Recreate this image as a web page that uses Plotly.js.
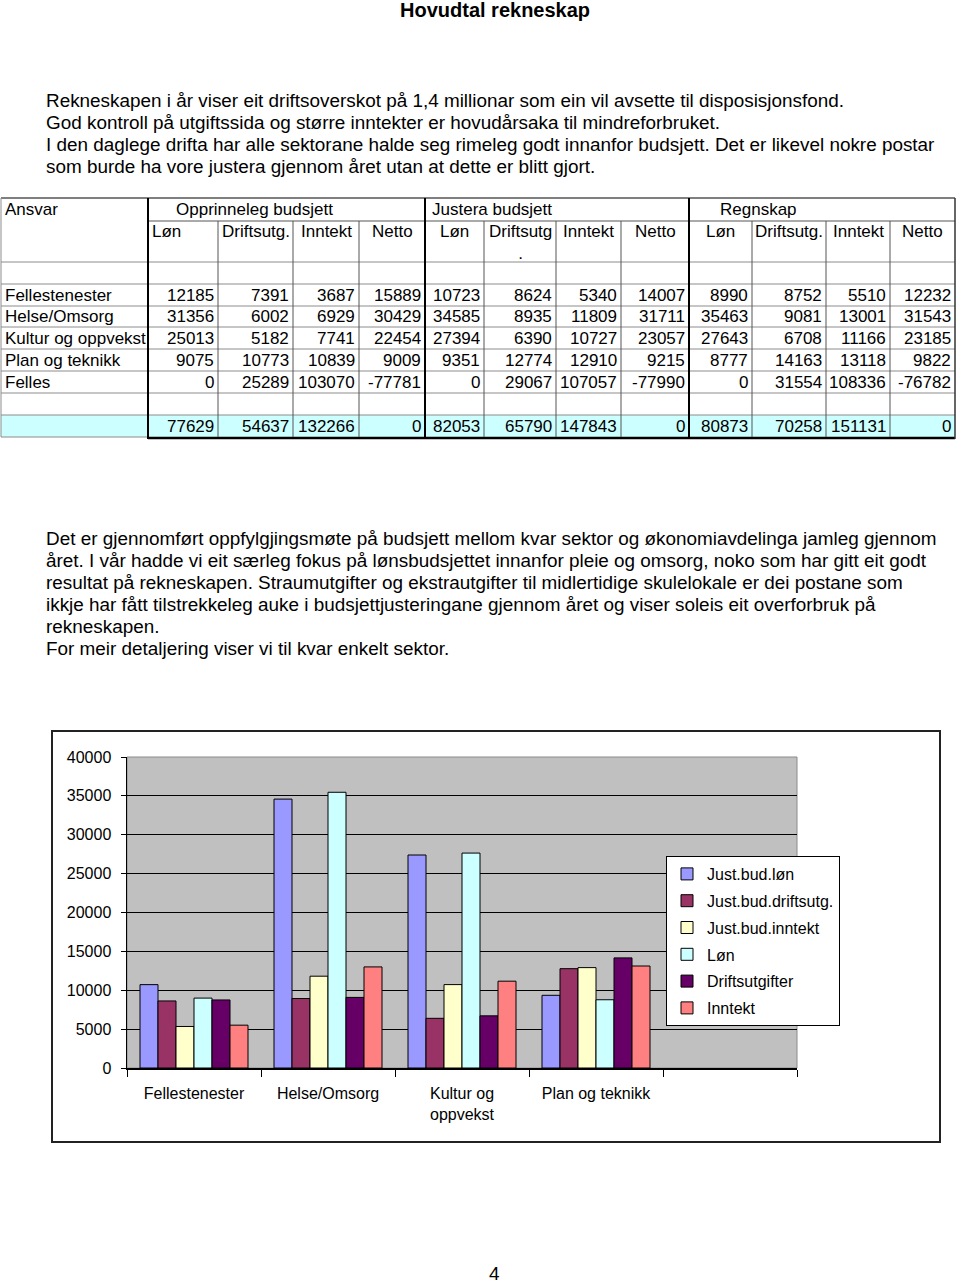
<!DOCTYPE html>
<html>
<head>
<meta charset="utf-8">
<script src="https://cdn.plot.ly/plotly-3.0.1.min.js"></script>
<style>html,body{margin:0;padding:0;background:#fff}#page{width:960px;height:1283px}</style>
</head>
<body>
<div id="page"></div>
<script>
// ================= DATA =================
const pageTitle = "Hovudtal rekneskap";
const introLines = [
  "Rekneskapen i år viser eit driftsoverskot på 1,4 millionar som ein vil avsette til disposisjonsfond.",
  "God kontroll på utgiftssida og større inntekter er hovudårsaka til mindreforbruket.",
  "I den daglege drifta har alle sektorane halde seg rimeleg godt innanfor budsjett. Det er likevel nokre postar",
  "som burde ha vore justera gjennom året utan at dette er blitt gjort."
];
const outroLines = [
  "Det er gjennomført oppfylgjingsmøte på budsjett mellom kvar sektor og økonomiavdelinga jamleg gjennom",
  "året. I vår hadde vi eit særleg fokus på lønsbudsjettet innanfor pleie og omsorg, noko som har gitt eit godt",
  "resultat på rekneskapen. Straumutgifter og ekstrautgifter til midlertidige skulelokale er dei postane som",
  "ikkje har fått tilstrekkeleg auke i budsjettjusteringane gjennom året og viser soleis eit overforbruk på",
  "rekneskapen.",
  "For meir detaljering viser vi til kvar enkelt sektor."
];
const pageNumber = "4";

// Table
const firstHeader = "Ansvar";
const groupTitles = ["Opprinneleg budsjett", "Justera budsjett", "Regnskap"];
const columnHeaders = ["Løn", "Driftsutg.", "Inntekt", "Netto",
                       "Løn", "Driftsutg<br>.", "Inntekt", "Netto",
                       "Løn", "Driftsutg.", "Inntekt", "Netto"];
const sectors = ["Fellestenester", "Helse/Omsorg", "Kultur og oppvekst", "Plan og teknikk", "Felles"];
const opprLon   = [12185, 31356, 25013, 9075, 0];
const opprDrift = [7391, 6002, 5182, 10773, 25289];
const opprInnt  = [3687, 6929, 7741, 10839, 103070];
const opprNetto = [15889, 30429, 22454, 9009, -77781];
const justLon   = [10723, 34585, 27394, 9351, 0];
const justDrift = [8624, 8935, 6390, 12774, 29067];
const justInnt  = [5340, 11809, 10727, 12910, 107057];
const justNetto = [14007, 31711, 23057, 9215, -77990];
const regnLon   = [8990, 35463, 27643, 8777, 0];
const regnDrift = [8752, 9081, 6708, 14163, 31554];
const regnInnt  = [5510, 13001, 11166, 13118, 108336];
const regnNetto = [12232, 31543, 23185, 9822, -76782];
const totals    = [77629, 54637, 132266, 0, 82053, 65790, 147843, 0, 80873, 70258, 151131, 0];

// Chart
const chartCategories = ["Fellestenester", "Helse/Omsorg", "Kultur og oppvekst", "Plan og teknikk", " "];
const chartTickText   = ["Fellestenester", "Helse/Omsorg", "Kultur og<br>oppvekst", "Plan og teknikk", ""];
const seriesNames = ["Just.bud.løn", "Just.bud.driftsutg.", "Just.bud.inntekt", "Løn", "Driftsutgifter", "Inntekt"];
const justBudLon    = [10723, 34585, 27394, 9351];
const justBudDrift  = [8624, 8935, 6390, 12774];
const justBudInnt   = [5340, 11809, 10727, 12910];
const regnskapLon   = [8990, 35463, 27643, 8777];
const regnskapDrift = [8752, 9081, 6708, 14163];
const regnskapInnt  = [5510, 13001, 11166, 13118];
const yTicks = [0, 5000, 10000, 15000, 20000, 25000, 30000, 35000, 40000];

// ================= LAYOUT / STYLE =================
const W = 960, H = 1283;
const FONT = "Arial, 'Liberation Sans', sans-serif";
const seriesColors = ["#9999FF", "#993366", "#FFFFCC", "#CCFFFF", "#660066", "#FF8080"];
const colEdges = [1, 148, 218, 293, 359, 425, 484, 556, 621, 689, 752, 826, 890, 955];
const rowEdges = [198, 221, 262, 284, 306, 327, 349, 371, 393, 415, 437];
const groupCols = [1, 5, 9, 13];
const groupTitleX = [174, 430, 718];
const headerAlign = ["left", "left", "center", "center", "center", "center", "center", "center", "center", "center", "center", "center"];
const plotBox = {x0: 127, x1: 797, yTop: 757, yBottom: 1068};
const frameBox = {x0: 52, y0: 731, x1: 940, y1: 1142};
const introTop = 100, outroTop = 538, lineStep = 22;

const annotations = [];
const shapes = [];
const P = (o) => Object.assign({xref: 'x2', yref: 'y2', showarrow: false, font: {family: FONT, size: 17, color: '#000'}}, o);
const bodyFont = {family: FONT, size: 18.9, color: '#000'};

// Page texts
annotations.push(P({x: 495, y: 10, text: '<b>' + pageTitle + '</b>', xanchor: 'center', yanchor: 'middle', font: {family: FONT, size: 20, color: '#000'}}));
introLines.forEach((t, i) => annotations.push(P({x: 44, y: introTop + i * lineStep, text: t, xanchor: 'left', yanchor: 'middle', font: bodyFont})));
outroLines.forEach((t, i) => annotations.push(P({x: 44, y: outroTop + i * lineStep, text: t, xanchor: 'left', yanchor: 'middle', font: bodyFont})));
annotations.push(P({x: 494, y: 1273, text: pageNumber, xanchor: 'center', yanchor: 'middle', font: bodyFont}));

// Table background (total row)
shapes.push({type: 'rect', xref: 'x2', yref: 'y2', layer: 'below', x0: colEdges[0], x1: colEdges[13], y0: rowEdges[9], y1: rowEdges[10], fillcolor: '#CCFFFF', line: {width: 0}});
const L = (x0, y0, x1, y1, color, width) => shapes.push({type: 'line', xref: 'x2', yref: 'y2', layer: 'above', x0, y0, x1, y1, line: {color, width}});
const GREY = '#8c8c8c';
rowEdges.forEach((y, i) => {
  if (i === 0) L(colEdges[0], y, colEdges[13], y, '#555', 1.5);
  else if (i === 1) L(colEdges[1], y, colEdges[13], y, '#555', 1);
  else if (i === rowEdges.length - 1) { L(colEdges[0], y, colEdges[1], y, GREY, 1); L(colEdges[1], y + 1, colEdges[13], y + 1, '#000', 2.5); }
  else L(colEdges[0], y, colEdges[13], y, GREY, 1);
});
colEdges.forEach((x, i) => {
  if (i === 0) L(x, rowEdges[0], x, rowEdges[10], GREY, 1);
  else if (groupCols.indexOf(i) >= 0) L(x, rowEdges[0], x, rowEdges[10] + 2, i === 13 ? '#333' : '#000', i === 13 ? 1.5 : 2);
  else L(x, rowEdges[1], x, rowEdges[10], '#555', 1);
});

// table texts
annotations.push(P({x: 3, y: (rowEdges[0] + rowEdges[1]) / 2, text: firstHeader, xanchor: 'left', yanchor: 'middle'}));
groupTitles.forEach((t, g) => annotations.push(P({x: groupTitleX[g], y: (rowEdges[0] + rowEdges[1]) / 2, text: t, xanchor: 'left', yanchor: 'middle'})));
columnHeaders.forEach((t, c) => {
  const left = colEdges[c + 1], right = colEdges[c + 2];
  const al = headerAlign[c];
  annotations.push(P({x: al === 'left' ? left + 2 : (left + right) / 2, y: rowEdges[1] - 1, text: t, xanchor: al, yanchor: 'top', align: 'center'}));
});
const tableCols = [opprLon, opprDrift, opprInnt, opprNetto, justLon, justDrift, justInnt, justNetto, regnLon, regnDrift, regnInnt, regnNetto];
sectors.forEach((s, r) => {
  const yc = (rowEdges[r + 3] + rowEdges[r + 4]) / 2;
  annotations.push(P({x: 3, y: yc, text: s, xanchor: 'left', yanchor: 'middle'}));
  tableCols.forEach((col, c) => {
    annotations.push(P({x: colEdges[c + 2] - 2, y: yc, text: String(col[r]), xanchor: 'right', yanchor: 'middle'}));
  });
});
totals.forEach((v, c) => {
  annotations.push(P({x: colEdges[c + 2] - 2, y: (rowEdges[9] + rowEdges[10]) / 2, text: String(v), xanchor: 'right', yanchor: 'middle'}));
});

// Chart frame & plot area background
shapes.push({type: 'rect', xref: 'x2', yref: 'y2', layer: 'below', x0: frameBox.x0, y0: frameBox.y0, x1: frameBox.x1, y1: frameBox.y1, line: {color: '#222', width: 2}, fillcolor: 'rgba(0,0,0,0)'});
const xDom = [plotBox.x0 / W, plotBox.x1 / W];
const yDom = [1 - plotBox.yBottom / H, 1 - plotBox.yTop / H];
shapes.push({type: 'rect', xref: 'paper', yref: 'paper', layer: 'below', x0: xDom[0], x1: xDom[1], y0: yDom[0], y1: yDom[1], fillcolor: '#C0C0C0', line: {color: '#8a8a8a', width: 1}});

// ================= TRACES =================
const seriesValues = [justBudLon, justBudDrift, justBudInnt, regnskapLon, regnskapDrift, regnskapInnt];
const traces = seriesNames.map((name, i) => ({
  type: 'bar', name: name, legendgroup: 'g' + i,
  x: chartCategories.slice(0, 4), y: seriesValues[i],
  marker: {color: seriesColors[i], line: {color: '#000', width: 1}},
  xaxis: 'x', yaxis: 'y', hoverinfo: 'x+y+name'
}));
traces.push({type: 'scatter', x: [], y: [], xaxis: 'x2', yaxis: 'y2', showlegend: false, hoverinfo: 'skip'});

const layout = {
  width: W, height: H,
  margin: {l: 0, r: 0, t: 0, b: 0, pad: 0},
  paper_bgcolor: '#fff', plot_bgcolor: 'rgba(0,0,0,0)',
  font: {family: FONT, size: 16, color: '#000'},
  barmode: 'group', bargap: 0.194, bargroupgap: 0,
  showlegend: true,
  legend: {x: 666 / W, y: 1 - 856 / H, xanchor: 'left', yanchor: 'top', bgcolor: '#fff', bordercolor: '#000', borderwidth: 1,
           font: {family: FONT, size: 16, color: '#000'}, tracegroupgap: 3, traceorder: 'grouped'},
  xaxis: {domain: xDom, anchor: 'y', type: 'category', categoryorder: 'array', categoryarray: chartCategories,
          range: [-0.5, 4.5], tickmode: 'array', tickvals: chartCategories, ticktext: chartTickText,
          tickson: 'boundaries', ticks: 'outside', ticklen: 7, tickcolor: '#000', tickwidth: 1, ticklabelstandoff: 10,
          showline: true, linecolor: '#000', linewidth: 1.5, showgrid: false, zeroline: false,
          tickfont: {family: FONT, size: 16, color: '#000'}, fixedrange: true},
  yaxis: {domain: yDom, anchor: 'x', range: [0, 40000], tickmode: 'array', tickvals: yTicks, tickformat: 'd',
          ticks: 'outside', ticklen: 5, tickcolor: '#000', showline: true, linecolor: '#000', linewidth: 1.5,
          showgrid: true, gridcolor: '#000', gridwidth: 1, zeroline: false, ticklabelstandoff: 6,
          tickfont: {family: FONT, size: 16, color: '#000'}, fixedrange: true},
  xaxis2: {domain: [0, 1], anchor: 'y2', range: [0, W], visible: false, fixedrange: true},
  yaxis2: {domain: [0, 1], anchor: 'x2', range: [H, 0], visible: false, fixedrange: true},
  annotations: annotations,
  shapes: shapes
};

Plotly.newPlot('page', traces, layout, {displayModeBar: false, staticPlot: true});
</script>
</body>
</html>
